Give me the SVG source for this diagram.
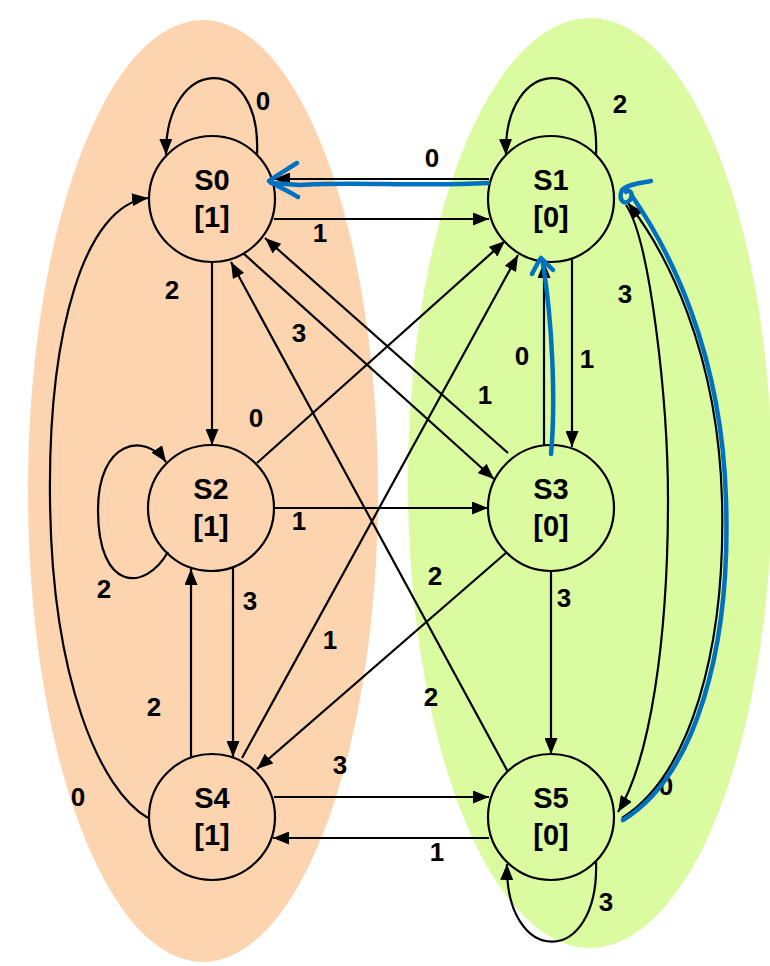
<svg xmlns="http://www.w3.org/2000/svg" width="770" height="966" viewBox="0 0 770 966">
<defs>
<style>
.e{fill:none;stroke:#000;stroke-width:2.2;marker-end:url(#ah)}
.n{fill:none;stroke:#000;stroke-width:2.2}
.t{font-family:"Liberation Sans",Arial,sans-serif;font-weight:700;font-size:29px;text-anchor:middle;fill:#000}
.l{font-family:"Liberation Sans",Arial,sans-serif;font-weight:700;font-size:26px;text-anchor:middle;fill:#000}
.b{fill:none;stroke:#0070C0;stroke-width:4.5;stroke-linecap:round;stroke-linejoin:round}
</style>
<marker id="ah" viewBox="0 0 16 13" refX="16" refY="6.5" markerWidth="16" markerHeight="13" markerUnits="userSpaceOnUse" orient="auto">
<path d="M0,0 L16,6.5 L0,13 z" fill="#000"/>
</marker>
</defs>
<rect width="770" height="966" fill="#fff"/>
<g id="groups">
<ellipse cx="203" cy="491" rx="175" ry="471" fill="#FCD5B0"/>
<ellipse cx="590" cy="483" rx="182" ry="465" fill="#DAFBA0"/>
</g>
<g id="connectors">
<path class="e" d="M257,155 C262,50 165,55 166,155"/>
<text class="l" x="263" y="110">0</text>
<path class="e" d="M596,155 C601,50 503,55 506,155"/>
<text class="l" x="620" y="113">2</text>
<path class="e" d="M489,179 L274,179"/>
<text class="l" x="432" y="167">0</text>
<path class="e" d="M274,219 L489,219"/>
<text class="l" x="320" y="242">1</text>
<path class="e" d="M212,262 L212,445"/>
<text class="l" x="172" y="299">2</text>
<path class="e" d="M243,253 L494,479"/>
<text class="l" x="299" y="342">3</text>
<path class="e" d="M508,453 L265,238"/>
<text class="l" x="485" y="404">1</text>
<path class="e" d="M257,463 L505,241"/>
<text class="l" x="256" y="427">0</text>
<path class="e" d="M544,445 L544,262"/>
<text class="l" x="522" y="365">0</text>
<path class="e" d="M572,258 L572,447"/>
<text class="l" x="587" y="368">1</text>
<path class="e" d="M626,205 C650,240 668,400 668,500 C668,640 650,760 618,812"/>
<text class="l" x="625" y="303">3</text>
<path class="e" d="M168,552 C145,592 98,592 98,510 C98,440 145,432 166,462"/>
<text class="l" x="104" y="598">2</text>
<path class="e" d="M274,508 L488,508"/>
<text class="l" x="299" y="530">1</text>
<path class="e" d="M233,567 L233,757"/>
<text class="l" x="250" y="610">3</text>
<path class="e" d="M191,758 L191,569"/>
<text class="l" x="154" y="716">2</text>
<path class="e" d="M507,552 L257,769"/>
<text class="l" x="435" y="585">2</text>
<path class="e" d="M551,571 L551,754"/>
<text class="l" x="564" y="607">3</text>
<path class="e" d="M242,758 L518,255"/>
<text class="l" x="330" y="649">1</text>
<path class="e" d="M508,772 L231,262"/>
<text class="l" x="431" y="706">2</text>
<path class="e" d="M148,818 C100,790 52,680 50,500 C48,330 85,205 148,198"/>
<text class="l" x="78" y="806">0</text>
<path class="e" d="M274,797 L489,797"/>
<text class="l" x="340" y="774">3</text>
<path class="e" d="M489,838 L273,838"/>
<text class="l" x="437" y="861">1</text>
<path class="e" d="M622,818 C690,775 726,650 722,500 C718,350 665,250 628,203"/>
<text class="l" x="666" y="795">0</text>
<path class="e" d="M596,861 C600,968 505,968 507,864"/>
<text class="l" x="606" y="911">3</text>
</g>
<g id="S0"><circle class="n" cx="212" cy="199" r="63"/><text class="t" x="212" y="190">S0</text><text class="t" x="212" y="227">[1]</text></g>
<g id="S1"><circle class="n" cx="551" cy="199" r="63"/><text class="t" x="551" y="190">S1</text><text class="t" x="551" y="227">[0]</text></g>
<g id="S2"><circle class="n" cx="211" cy="508" r="63"/><text class="t" x="211" y="499">S2</text><text class="t" x="211" y="536">[1]</text></g>
<g id="S3"><circle class="n" cx="551" cy="508" r="63"/><text class="t" x="551" y="499">S3</text><text class="t" x="551" y="536">[0]</text></g>
<g id="S4"><circle class="n" cx="212" cy="817" r="63"/><text class="t" x="212" y="808">S4</text><text class="t" x="212" y="845">[1]</text></g>
<g id="S5"><circle class="n" cx="551" cy="817" r="63"/><text class="t" x="551" y="808">S5</text><text class="t" x="551" y="845">[0]</text></g>
<g id="annotations">
<path class="b" d="M488,183 C420,187 350,181 300,185 L271,183"/>
<path class="b" d="M297,163 C286,170 274,177 269,181 C279,187 290,192 298,197"/>
<path class="b" d="M551,454 C556,400 552,320 543,264"/>
<path class="b" d="M532,274 C535,268 538,262 541,258 C545,262 549,266 553,270"/>
<path class="b" d="M623,820 C695,776 731,650 726,500 C722,350 668,248 632,196"/>
<path class="b" d="M651,181 C640,183 628,184 622,190 C618,200 624,206 630,200 C634,195 630,188 626,192"/>
</g>
</svg>
